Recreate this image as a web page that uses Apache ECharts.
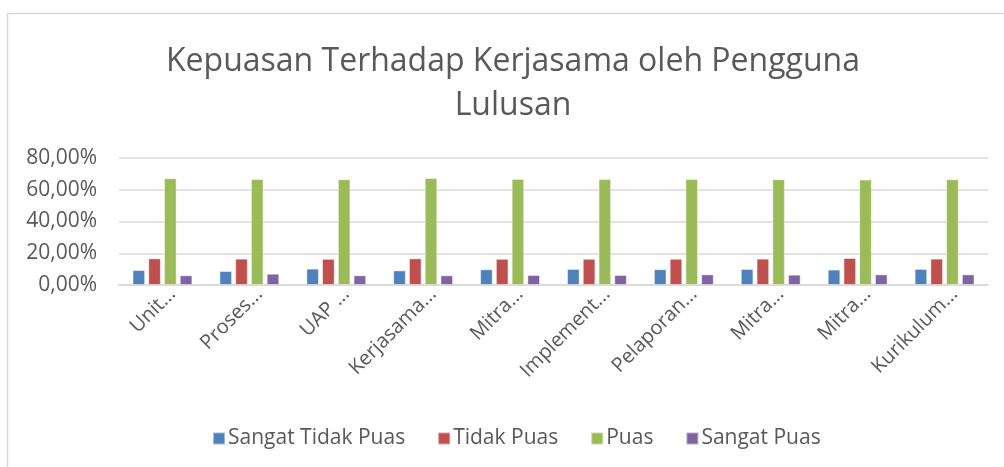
<!DOCTYPE html>
<html>
<head>
<meta charset="utf-8">
<script src="https://cdn.jsdelivr.net/npm/echarts@6/dist/echarts.min.js"></script>
<style>
html,body{margin:0;padding:0;background:#fff;}
#main{width:1004px;height:467px;}
</style>
</head>
<body>
<div id="main"></div>
<script>
// data
var categories=['Unit...','Proses...','UAP ...','Kerjasama...','Mitra...','Implement...','Pelaporan...','Mitra...','Mitra...','Kurikulum...'];
var seriesNames=['Sangat Tidak Puas','Tidak Puas','Puas','Sangat Puas'];
var sangatTidakPuas=[0.094,0.088,0.103,0.092,0.099,0.101,0.099,0.101,0.097,0.101];
var tidakPuas=[0.168,0.166,0.165,0.168,0.165,0.165,0.165,0.166,0.170,0.166];
var puas=[0.672,0.668,0.666,0.674,0.668,0.668,0.668,0.666,0.664,0.666];
var sangatPuas=[0.061,0.071,0.061,0.061,0.063,0.063,0.067,0.065,0.067,0.067];
var yTicks=[0,0.2,0.4,0.6,0.8];

var colors=['#4f81bd','#c0504d','#9bbb59','#8064a2'];
var values=[sangatTidakPuas,tidakPuas,puas,sangatPuas];
var txt='#595959';
var font='"Open Sans", sans-serif';

var series=[];
for(var i=0;i<seriesNames.length;i++){
	series.push({
		name:seriesNames[i],
		type:'bar',
		data:values[i],
		barWidth:12.6,
		barGap:'25%',
		itemStyle:{color:colors[i],borderColor:'rgba(255,255,255,0.45)',borderWidth:1}
	});
}

var myChart=echarts.init(document.getElementById('main'),null,{renderer:'canvas'});
myChart.setOption({
	animation:false,
	textStyle:{fontFamily:font},
	graphic:[{
		type:'rect',
		shape:{x:7.5,y:13.5,width:1010,height:470},
		style:{fill:'none',stroke:'#d9d9d9',lineWidth:1.5}
	}],
	title:{
		text:'Kepuasan Terhadap Kerjasama oleh Pengguna\nLulusan',
		left:508,
		top:35,
		textAlign:'center',
		textStyle:{fontFamily:font,fontSize:32,fontWeight:'normal',color:txt,lineHeight:44}
	},
	legend:{
		data:seriesNames,
		left:212,
		top:428,
		padding:0,
		icon:'rect',
		itemWidth:12,
		itemHeight:12,
		itemGap:32,
		textStyle:{fontFamily:font,fontSize:21,color:txt,padding:[0,0,0,-2]}
	},
	// second grid only carries the category labels, nudged right like Excel does
	grid:[
		{left:119,right:16,top:158,bottom:182,containLabel:false},
		{left:129,right:6,top:158,bottom:182,containLabel:false}
	],
	xAxis:[{
		type:'category',
		data:categories,
		axisLine:{lineStyle:{color:'#d9d9d9',width:1.5}},
		axisTick:{show:false},
		axisLabel:{show:false}
	},{
		type:'category',
		gridIndex:1,
		data:categories,
		axisLine:{show:false},
		axisTick:{show:false},
		axisLabel:{rotate:45,interval:0,margin:6,fontFamily:font,fontSize:20,color:txt}
	}],
	yAxis:[{
		type:'value',
		min:yTicks[0],
		max:yTicks[yTicks.length-1],
		interval:0.2,
		axisLine:{show:false},
		axisTick:{show:false},
		splitLine:{lineStyle:{color:'#d9d9d9',width:1.5}},
		axisLabel:{
			margin:22,
			fontFamily:font,
			fontSize:21,
			color:txt,
			formatter:function(v){return (v*100).toFixed(2).replace('.',',')+'%';}
		}
	},{
		type:'value',
		gridIndex:1,
		min:0,
		max:0.8,
		show:false
	}],
	series:series
});
</script>
</body>
</html>
